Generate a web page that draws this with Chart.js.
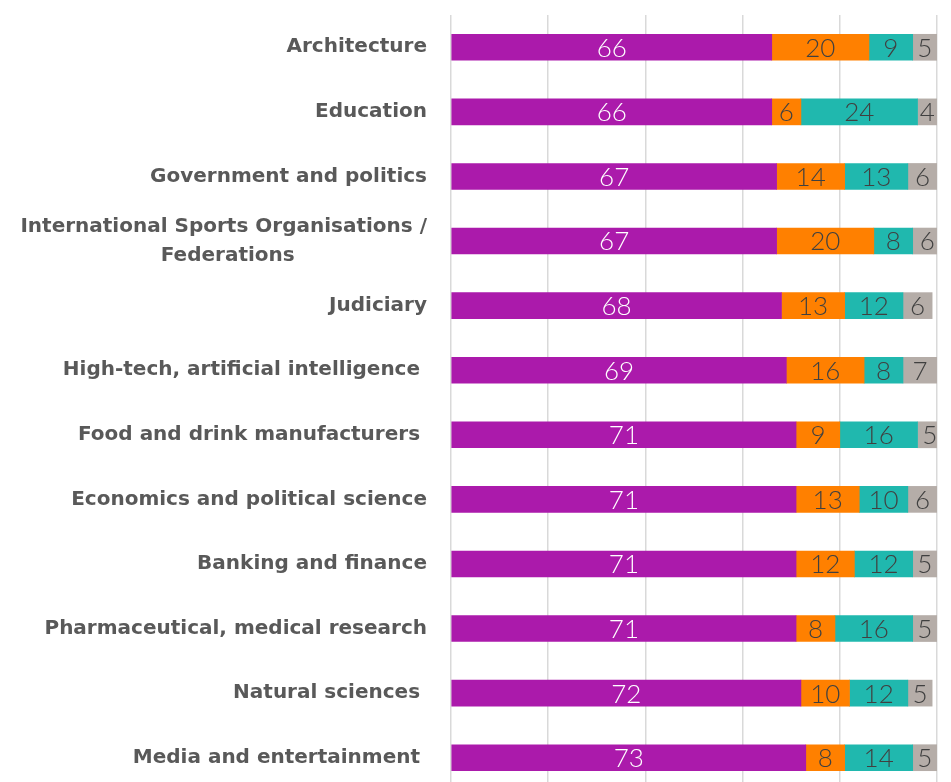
<!DOCTYPE html>
<html>
<head>
<meta charset="utf-8">
<script src="https://cdn.jsdelivr.net/npm/chart.js@4"></script>
<style>
  html, body { margin: 0; padding: 0; background: #fff; overflow: hidden; }
  #wrap { width: 951px; height: 790px; }
</style>
</head>
<body>
<div id="wrap"><canvas id="myChart" width="951" height="790"></canvas></div>
<script>
'use strict';
let categories = [
  'Architecture',
  'Education',
  'Government and politics',
  ['International Sports Organisations /', 'Federations                   '],
  'Judiciary',
  'High-tech, artificial intelligence ',
  'Food and drink manufacturers ',
  'Economics and political science',
  'Banking and finance',
  'Pharmaceutical, medical research',
  'Natural sciences ',
  'Media and entertainment '
];
let purpleValues = [66, 66, 67, 67, 68, 69, 71, 71, 71, 71, 72, 73];
let orangeValues = [20, 6, 14, 20, 13, 16, 9, 13, 12, 8, 10, 8];
let tealValues   = [9, 24, 13, 8, 12, 8, 16, 10, 12, 16, 12, 14];
let greyValues   = [5, 4, 6, 6, 6, 7, 5, 6, 5, 5, 5, 5];
let xTicks = [0, 20, 40, 60, 80, 100];

// simple in-bar value labels (no datalabels plugin offline)
let barLabels = {
  id: 'barLabels',
  afterDatasetsDraw(chart) {
    let ctx = chart.ctx;
    ctx.save();
    ctx.font = '300 26px Lato, "Open Sans", sans-serif';
    ctx.textAlign = 'center';
    ctx.textBaseline = 'middle';
    chart.data.datasets.forEach((ds, i) => {
      let meta = chart.getDatasetMeta(i);
      meta.data.forEach((bar, j) => {
        let p = bar.getProps(['x', 'y', 'base'], true);
        ctx.fillStyle = ds.labelColor;
        ctx.fillText(String(ds.data[j]), (p.x + p.base) / 2, p.y + 1);
      });
    });
    ctx.restore();
  }
};

let ctx = document.getElementById('myChart');
let myChart = new Chart(ctx, {
  type: 'bar',
  data: {
    labels: categories,
    datasets: [
      { data: purpleValues, backgroundColor: '#AB1AAB', labelColor: '#ffffff' },
      { data: orangeValues, backgroundColor: '#FF8000', labelColor: '#404040' },
      { data: tealValues, backgroundColor: '#20B8AE', labelColor: '#404040' },
      { data: greyValues, backgroundColor: '#B5ADA8', labelColor: '#404040' }
    ]
  },
  plugins: [barLabels],
  options: {
    indexAxis: 'y',
    responsive: false,
    animation: false,
    layout: { padding: { top: 15, right: 14, left: 0, bottom: 0 } },
    datasets: { bar: { barThickness: 26, categoryPercentage: 1 } },
    plugins: { legend: { display: false }, tooltip: { enabled: false } },
    scales: {
      x: {
        stacked: true,
        min: 0,
        max: 100,
        afterBuildTicks: (scale) => { scale.ticks = xTicks.map(v => ({ value: v })); },
        ticks: { display: false },
        grid: { color: '#D9D9D9', lineWidth: 1.5, drawTicks: false },
        border: { display: false }
      },
      y: {
        stacked: true,
        afterFit: (scale) => {
          scale.width = 451;
          scale.paddingTop = 0;
          scale.paddingBottom = 0;
        },
        grid: { display: false, drawTicks: false },
        border: { display: false },
        ticks: {
          padding: 24,
          color: '#595959',
          font: { family: '"DejaVu Sans", sans-serif', size: 20, weight: 'bold', lineHeight: 1.45 }
        }
      }
    }
  }
});
</script>
</body>
</html>
